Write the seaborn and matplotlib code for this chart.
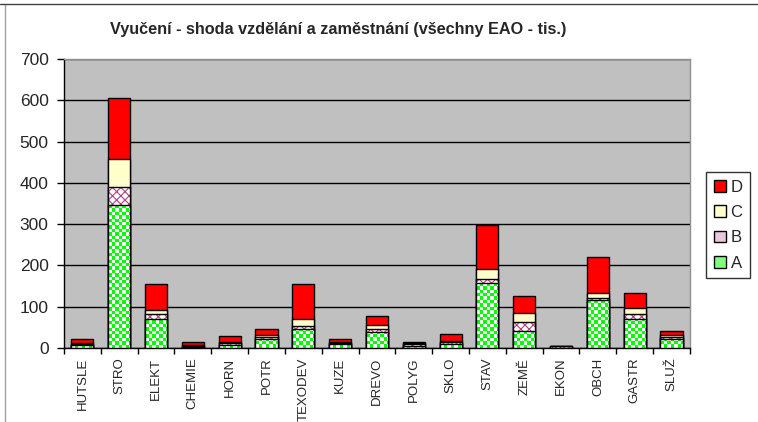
import numpy as np
import pandas as pd
import seaborn as sns
import matplotlib.pyplot as plt
from matplotlib.patches import Patch
from matplotlib.colors import ListedColormap
from matplotlib.lines import Line2D

categories = ["HUTSLE", "STRO", "ELEKT", "CHEMIE", "HORN", "POTR", "TEXODEV", "KUZE",
              "DREVO", "POLYG", "SKLO", "STAV", "ZEMĚ", "EKON", "OBCH", "GASTR", "SLUŽ"]
A = [7, 346, 71, 2, 8, 21, 45, 9, 39, 4, 9, 158, 40, 1, 117, 70, 21]
B = [3, 44, 12, 4, 3, 5, 8, 3, 8, 5, 5, 8, 22, 3, 4, 12, 5]
C = [2, 67, 10, 2, 3, 5, 18, 3, 8, 4, 4, 25, 22, 1, 11, 14, 5]
D = [9, 149, 63, 6, 14, 16, 83, 6, 22, 2, 17, 107, 43, 1, 89, 37, 9]
yticks = [0, 100, 200, 300, 400, 500, 600, 700]
title = "Vyučení - shoda vzdělání a zaměstnání (všechny EAO - tis.)"

sns.set_style("white")
plt.rcParams['font.family'] = ['Liberation Sans', 'DejaVu Sans']
plt.rcParams['hatch.linewidth'] = 0.8

df = pd.DataFrame({"cat": categories, "A": A, "B": B, "C": C, "D": D})
df["AB"] = df.A + df.B
df["ABC"] = df.AB + df.C
df["ABCD"] = df.ABC + df.D

fig = plt.figure(figsize=(7.58, 4.22), dpi=100)
ax = fig.add_axes([0.0844, 0.1754, 0.8258, 0.6848])
ax.set_facecolor("#C0C0C0")

W = 0.6
common = dict(data=df, x="cat", order=categories, width=W, saturation=1,
              errorbar=None, ax=ax)
# D (total) red
sns.barplot(y="ABCD", color="#FF0000", edgecolor="black", linewidth=1, zorder=3, **common)
# C light yellow
sns.barplot(y="ABC", color="#FFFFCC", edgecolor="black", linewidth=1, zorder=3, **common)
# B hatched pink on white
sns.barplot(y="AB", color="white", edgecolor="#B04080", linewidth=0, hatch="xxxx", zorder=3, **common)
sns.barplot(y="AB", fill=False, edgecolor="black", linewidth=1, zorder=3.2, **common)
# A white base (checker added below)
sns.barplot(y="A", color="white", edgecolor="black", linewidth=0, zorder=3.3, **common)
a_container = ax.containers[-1]
sns.barplot(y="A", fill=False, edgecolor="black", linewidth=1, zorder=3.6, **common)

ax.set_xlim(-0.5, len(categories) - 0.5)
ax.set_ylim(0, 700)

# checkerboard fill for A
fig.canvas.draw()
cmap = ListedColormap(["white", "#00FF00"])
inv = ax.transData.inverted()
p0 = inv.transform((0, 0))
p1 = inv.transform((3.4, 3.4))
cx, cy = p1[0] - p0[0], p1[1] - p0[1]
for patch in a_container.patches:
    x0, y0 = patch.get_x(), patch.get_y()
    w, h = patch.get_width(), patch.get_height()
    if h <= 0:
        continue
    nx = int(np.ceil(w / cx)) + 1
    ny = int(np.ceil(h / cy)) + 1
    ii, jj = np.indices((ny, nx))
    arr = (ii + jj) % 2
    im = ax.imshow(arr, cmap=cmap, origin="lower", interpolation="nearest",
                   extent=(x0, x0 + nx * cx, y0, y0 + ny * cy), aspect="auto", zorder=3.4)
    im.set_clip_path(patch)

ax.set_xlim(-0.5, len(categories) - 0.5)
ax.set_ylim(0, 700)
ax.set_aspect("auto")

ax.set_axisbelow(True)
ax.yaxis.grid(True, color="black", linewidth=1)
ax.xaxis.grid(False)
ax.set_yticks(yticks)
ax.set_yticklabels([str(v) for v in yticks], fontsize=12.5)
ax.set_xticks(range(len(categories)))
ax.set_xticklabels(categories, rotation=90, fontsize=9.5)
ax.tick_params(axis="x", which="major", length=0, pad=7)
ax.set_xticks(np.arange(-0.5, len(categories), 1), minor=True)
ax.tick_params(axis="x", which="minor", length=4, color="black", width=1, direction="out", bottom=True)
ax.tick_params(axis="y", length=5, color="black", width=1, direction="out", left=True, pad=6)
ax.set_xlabel("")
ax.set_ylabel("")
for s in ["left", "bottom"]:
    ax.spines[s].set_color("black")
    ax.spines[s].set_linewidth(1)
for s in ["top", "right"]:
    ax.spines[s].set_color("#909090")
    ax.spines[s].set_linewidth(1)

fig.text(0.446, 0.929, title, ha="center", va="center", fontsize=11.7, fontweight="bold")

handles = [
    Patch(facecolor="#FF0000", edgecolor="black", label="D"),
    Patch(facecolor="#FFFFCC", edgecolor="black", label="C"),
    Patch(facecolor="#E8C8DC", edgecolor="black", label="B"),
    Patch(facecolor="#80FF80", edgecolor="black", label="A"),
]
leg = fig.legend(handles=handles, loc="upper left", bbox_to_anchor=(0.932, 0.592),
                 fontsize=12, frameon=True, fancybox=False, edgecolor="black",
                 handlelength=0.7, handleheight=0.7, handletextpad=0.3,
                 labelspacing=0.62, borderpad=0.45, borderaxespad=0)
leg.get_frame().set_linewidth(1)

# window borders
fig.add_artist(Line2D([0.007, 0.007], [0, 0.99], color="#A0A0A0", lw=1))
fig.add_artist(Line2D([0, 1], [0.99, 0.99], color="#404040", lw=1))

fig.savefig("out.png", dpi=100)
